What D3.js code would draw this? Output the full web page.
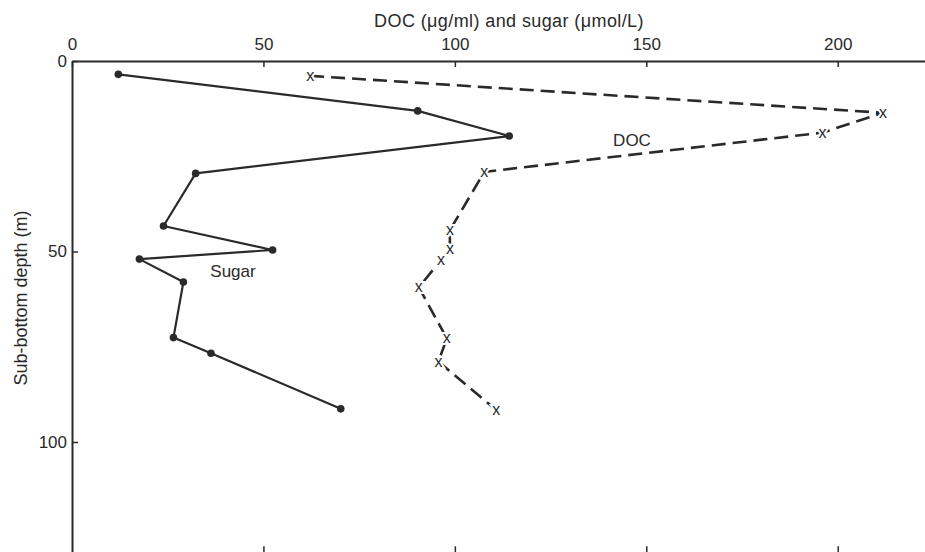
<!DOCTYPE html>
<html>
<head>
<meta charset="utf-8">
<script src="https://cdn.jsdelivr.net/npm/d3@7"></script>
<style>
  html, body { margin: 0; padding: 0; background: #fff; }
  svg { display: block; }
  text { font-family: "Liberation Sans", Arial, Helvetica, sans-serif; fill: #2a2a2a; }
</style>
</head>
<body>
<svg id="chart" width="925" height="552"></svg>
<script>
// ---- data ----
const sugarDepth = [3.5, 13.1, 19.7, 29.5, 43.3, 49.6, 52.0, 58.0, 72.6, 76.7, 91.3];
const sugarValue = [12.1, 90.3, 114.2, 32.3, 23.9, 52.4, 17.6, 29.1, 26.5, 36.3, 70.2];
const docDepth   = [3.9, 13.6, 18.8, 29.1, 44.4, 49.4, 52.2, 59.4, 72.8, 78.9, 91.6];
const docValue   = [62.2, 211.8, 196.0, 107.7, 98.7, 98.7, 96.4, 90.6, 97.9, 95.7, 110.8];
const xTicks = [0, 50, 100, 150, 200];
const yTicks = [0, 50, 100];
const xTitle = "DOC (\u03BCg/ml) and sugar (\u03BCmol/L)";
const yTitle = "Sub-bottom depth (m)";

const svg = d3.select("#chart");
const ink = "#2a2a2a";

const x = d3.scaleLinear().domain([0, 222.8]).range([72, 925]);
const y = d3.scaleLinear().domain([0, 130]).range([61, 556.3]);

// top axis
const topAxis = svg.append("g").attr("transform", `translate(0,${y(0)})`)
  .call(d3.axisTop(x).tickValues(xTicks).tickSize(-6).tickPadding(11).tickSizeOuter(0));
topAxis.select(".domain").attr("stroke", ink).attr("stroke-width", 2);
topAxis.selectAll(".tick line").attr("stroke", ink).attr("stroke-width", 1.5);
topAxis.selectAll(".tick text").attr("font-size", 17).attr("fill", ink)
  .attr("font-family", "Liberation Sans, Arial, sans-serif");

// bottom axis (line falls outside the picture, ticks visible)
const botAxis = svg.append("g").attr("transform", `translate(0,${y(130)})`)
  .call(d3.axisBottom(x).tickValues(xTicks.slice(1)).tickSize(-10).tickFormat("").tickSizeOuter(0));
botAxis.select(".domain").attr("stroke", ink).attr("stroke-width", 2);
botAxis.selectAll(".tick line").attr("stroke", ink).attr("stroke-width", 1.5);

// left axis
const leftAxis = svg.append("g").attr("transform", `translate(${x(0)},0)`)
  .call(d3.axisLeft(y).tickValues(yTicks).tickSize(-6).tickPadding(5).tickSizeOuter(0));
leftAxis.select(".domain").attr("stroke", ink).attr("stroke-width", 2);
leftAxis.selectAll(".tick line").attr("stroke", ink).attr("stroke-width", 1.5);
leftAxis.selectAll(".tick text").attr("font-size", 17).attr("fill", ink)
  .attr("font-family", "Liberation Sans, Arial, sans-serif");

// titles
svg.append("text").attr("x", 509).attr("y", 27).attr("text-anchor", "middle")
  .attr("font-size", 18).attr("letter-spacing", 0.4).text(xTitle);
svg.append("text").attr("transform", `translate(27,${298}) rotate(-90)`)
  .attr("text-anchor", "middle").attr("font-size", 18).text(yTitle);

// sugar (solid with dots)
const sugar = sugarDepth.map((d, i) => ({ d, v: sugarValue[i] }));
const doc = docDepth.map((d, i) => ({ d, v: docValue[i] }));
const line = d3.line().x(p => x(p.v)).y(p => y(p.d));

svg.append("path").datum(sugar).attr("d", line)
  .attr("fill", "none").attr("stroke", ink).attr("stroke-width", 2.2).attr("stroke-linejoin", "round");
svg.selectAll(".sdot").data(sugar).enter().append("circle")
  .attr("cx", p => x(p.v)).attr("cy", p => y(p.d)).attr("r", 3.8).attr("fill", ink);

// DOC (dashed with x markers)
svg.append("path").datum(doc).attr("d", line)
  .attr("fill", "none").attr("stroke", ink).attr("stroke-width", 2.6)
  .attr("stroke-dasharray", "14,7");
svg.selectAll(".dmark").data(doc).enter().append("text")
  .attr("x", p => x(p.v)).attr("y", p => y(p.d) + 5)
  .attr("text-anchor", "middle").attr("font-size", 16)
  .attr("stroke", "#fff").attr("stroke-width", 4).attr("paint-order", "stroke")
  .text("x");

// series labels
svg.append("text").attr("x", 632).attr("y", 146).attr("text-anchor", "middle")
  .attr("font-size", 17).text("DOC");
svg.append("text").attr("x", 233).attr("y", 277).attr("text-anchor", "middle")
  .attr("font-size", 17).text("Sugar");
</script>
</body>
</html>
